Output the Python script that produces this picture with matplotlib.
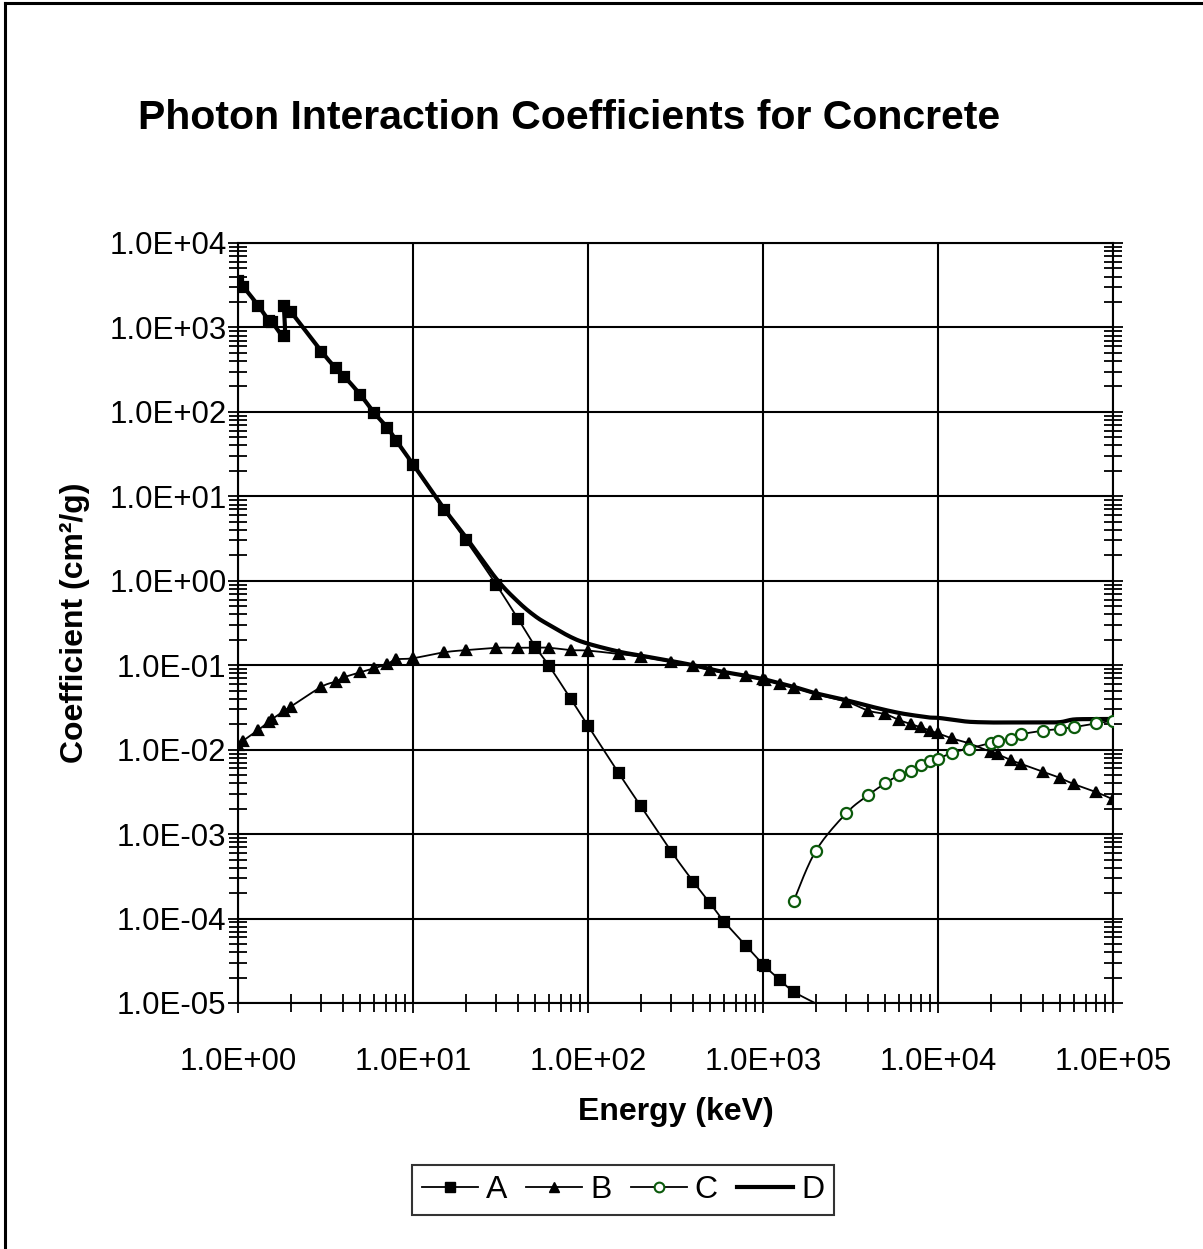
import numpy as np
import matplotlib
matplotlib.use("Agg")
import matplotlib.pyplot as plt
from matplotlib.lines import Line2D
from matplotlib.ticker import LogLocator, FuncFormatter, NullFormatter

plt.rcParams['font.family'] = ['Liberation Sans', 'DejaVu Sans']

# Energy grids (keV) and coefficients (cm2/g)
energy_a = [1, 1.072, 1.305, 1.5, 1.56, 1.839, 1.839, 2, 3, 3.607, 4.038, 5, 6, 7.112, 8, 10,
            15, 20, 30, 40, 50, 60, 80, 100, 150, 200, 300, 400, 500, 600, 800, 1000,
            1022, 1250, 1500, 2000]
coef_a = [3570, 3040, 1810, 1200, 1160, 793, 1795, 1536, 516, 328, 261, 158, 96, 64.5, 45, 23.5,
          6.9, 3.04, 0.89, 0.349, 0.165, 0.098, 0.0395, 0.0192, 0.00525, 0.00215, 6.18e-4, 2.73e-4,
          1.51e-4, 9.2e-5, 4.77e-5, 2.85e-5, 2.72e-5, 1.87e-5, 1.36e-5, 9.9e-6]

energy_b = [1, 1.072, 1.305, 1.5, 1.56, 1.839, 2, 3, 3.607, 4.038, 5, 6, 7.112, 8, 10,
            15, 20, 30, 40, 50, 60, 80, 100, 150, 200, 300, 400, 500, 600, 800, 1000,
            1022, 1250, 1500, 2000, 3000, 4000, 5000, 6000, 7000, 8000, 9000, 10000,
            12000, 15000, 20000, 22000, 26000, 30000, 40000, 50000, 60000, 80000, 100000]
coef_b = [0.0113, 0.0128, 0.0171, 0.0214, 0.0229, 0.0289, 0.0323, 0.0556, 0.0638, 0.072, 0.0825,
          0.092, 0.103, 0.117, 0.121, 0.142, 0.151, 0.161, 0.161, 0.162, 0.161, 0.151, 0.149,
          0.136, 0.126, 0.110, 0.098, 0.0877, 0.0815, 0.0745, 0.068, 0.067, 0.0599, 0.0542,
          0.0456, 0.037, 0.0289, 0.0264, 0.0224, 0.0201, 0.0184, 0.0168, 0.0156, 0.0136, 0.0119,
          0.0094, 0.0088, 0.00754, 0.00676, 0.00548, 0.0046, 0.0039, 0.00315, 0.00258]

energy_c = [1500, 2000, 3000, 4000, 5000, 6000, 7000, 8000, 9000, 10000, 12000, 15000,
            20000, 22000, 26000, 30000, 40000, 50000, 60000, 80000, 100000]
coef_c = [1.63e-4, 6.3e-4, 0.00178, 0.0029, 0.0040, 0.0050, 0.00564, 0.00658, 0.00734, 0.00775,
          0.0092, 0.0103, 0.012, 0.0127, 0.0135, 0.0152, 0.0168, 0.0176, 0.0185, 0.0205, 0.022]

energy_d = [1, 1.072, 1.305, 1.5, 1.56, 1.839, 1.839, 2, 3, 3.607, 4.038, 5, 6, 7.112, 8, 10,
            15, 20, 30, 40, 50, 60, 80, 100, 150, 200, 300, 400, 500, 600, 800, 1000,
            1022, 1250, 1500, 2000, 3000, 4000, 5000, 6000, 7000, 8000, 9000, 10000,
            12000, 15000, 20000, 22000, 26000, 30000, 40000, 50000, 60000, 80000, 100000]
coef_d = [3580, 3045, 1815, 1205, 1165, 797, 1800, 1541, 520, 331, 264, 160, 97.5, 65.5, 46, 24,
          7.2, 3.3, 1.05, 0.56, 0.38, 0.30, 0.215, 0.18, 0.145, 0.13, 0.112, 0.100, 0.090, 0.083,
          0.075, 0.0685, 0.068, 0.061, 0.0555, 0.0466, 0.0385, 0.033, 0.0295, 0.0272, 0.0258,
          0.0248, 0.024, 0.0238, 0.0227, 0.0214, 0.021, 0.021, 0.021, 0.021, 0.021, 0.0212,
          0.0228, 0.023, 0.0231]

labels = ['A', 'B', 'C', 'D']
c_green = '#0b5a0b'
y_min, y_max = 1e-5, 1e4


def smooth(x, y, n=16):
    """Excel-like smoothed line (Bezier through the points, in log space)"""
    P = np.column_stack([np.log10(x), np.log10(y)])
    out = [P[0]]
    t = np.linspace(0, 1, n)[1:, None]
    for i in range(len(P) - 1):
        p0 = P[i - 1] if i > 0 else P[i]
        p1, p2 = P[i], P[i + 1]
        p3 = P[i + 2] if i + 2 < len(P) else P[i + 1]
        c1 = p1 + (p2 - p0) / 6
        c2 = p2 - (p3 - p1) / 6
        seg = (1 - t) ** 3 * p1 + 3 * (1 - t) ** 2 * t * c1 + 3 * (1 - t) * t ** 2 * c2 + t ** 3 * p2
        out.extend(seg)
    out = np.array(out)
    return 10 ** out[:, 0], 10 ** out[:, 1]


W, H = 1203, 1249
fig = plt.figure(figsize=(W / 100, H / 100), dpi=100)
ax = fig.add_axes([238 / W, 1 - 1003 / H, 875 / W, 760 / H])
ax.set_xscale('log')
ax.set_yscale('log')

# Series A, B, C: thin smoothed line + markers
series = [
    (energy_a, coef_a, 's', 'black', 'black'),
    (energy_b, coef_b, '^', 'black', 'black'),
    (energy_c, coef_c, 'o', c_green, 'white'),
]
for (e, c, mk, mec, mfc) in series:
    sx, sy = smooth(e, c)
    ax.plot(sx, sy, color='black', lw=1.3, zorder=3)
    e = np.array(e)
    c = np.array(c)
    keep = c >= y_min
    ax.plot(e[keep], c[keep], ls='none', marker=mk, ms=7.5 if mk != 'o' else 8,
            mec=mec, mfc=mfc, mew=1.6, zorder=4)

sx, sy = smooth(energy_d, coef_d)
ax.plot(sx, sy, color='black', lw=3.0, zorder=3)

ax.set_xlim(1, 1e5)
ax.set_ylim(y_min, y_max)

fmt = FuncFormatter(lambda v, p: f"{v:.1E}")
ax.xaxis.set_major_locator(LogLocator(base=10, numticks=10))
ax.yaxis.set_major_locator(LogLocator(base=10, numticks=12))
ax.xaxis.set_minor_locator(LogLocator(base=10, subs=np.arange(2, 10), numticks=10))
ax.yaxis.set_minor_locator(LogLocator(base=10, subs=np.arange(2, 10), numticks=12))
ax.xaxis.set_major_formatter(fmt)
ax.yaxis.set_major_formatter(fmt)
ax.xaxis.set_minor_formatter(NullFormatter())
ax.yaxis.set_minor_formatter(NullFormatter())

ax.grid(True, which='major', color='black', lw=1.5)
for s in ax.spines.values():
    s.set_linewidth(1.5)
ax.tick_params(axis='both', which='both', direction='inout', width=1.3, labelsize=22.5)
ax.tick_params(axis='both', which='major', length=14.5)
ax.tick_params(axis='both', which='minor', length=12.5)
ax.tick_params(axis='y', which='both', right=True)
ax.tick_params(axis='x', which='major', pad=24.5)
ax.tick_params(axis='y', which='major', pad=1)

ax.set_xlabel('Energy (keV)', fontsize=23, fontweight='bold', labelpad=14)
ax.set_ylabel('Coefficient (cm²/g)', fontsize=23, fontweight='bold', labelpad=14)
fig.text(569 / W, 1 - 118 / H, 'Photon Interaction Coefficients for Concrete',
         fontsize=29.5, fontweight='bold', ha='center', va='center')

handles = [
    Line2D([], [], color='black', lw=1.3, marker='s', ms=6.5, mfc='black', mec='black'),
    Line2D([], [], color='black', lw=1.3, marker='^', ms=6.5, mfc='black', mec='black'),
    Line2D([], [], color='black', lw=1.3, marker='o', ms=7, mfc='white', mec=c_green, mew=1.5),
    Line2D([], [], color='black', lw=3.0),
]
leg = fig.legend(handles, labels, loc='center', bbox_to_anchor=(623 / W, 1 - 1190 / H), ncol=4,
                 fontsize=23, frameon=True, fancybox=False, edgecolor='black',
                 handlelength=1.75, handletextpad=0.25, columnspacing=0.6, borderpad=0.3,
                 borderaxespad=0)
leg.get_frame().set_linewidth(1.5)

# outer chart-area border (left and top visible)
fig.add_artist(Line2D([5 / W, 5 / W], [0, 1 - 3 / H], color='black', lw=2.2))
fig.add_artist(Line2D([5 / W, 1], [1 - 3 / H, 1 - 3 / H], color='black', lw=2.2))

fig.savefig('out.png', dpi=100)
